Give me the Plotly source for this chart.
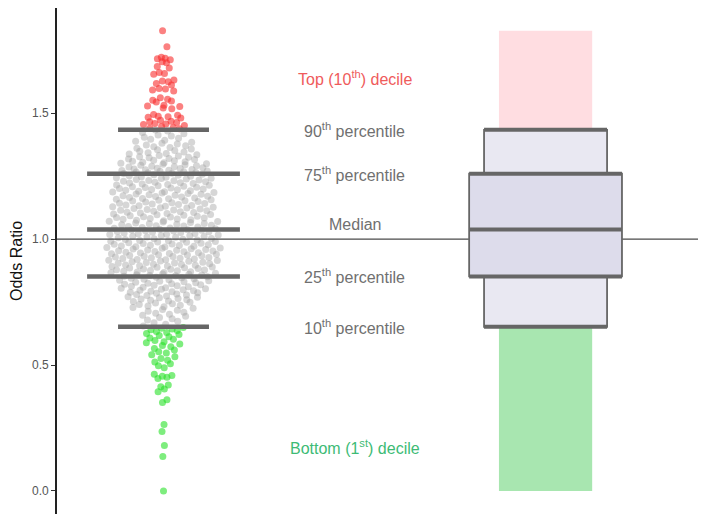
import numpy as np
import plotly.graph_objects as go

# ---------------- data ----------------
odds_top = [1.828, 1.764, 1.722, 1.718, 1.716, 1.712, 1.705, 1.701, 1.686, 1.680,
            1.662, 1.658, 1.655, 1.632, 1.628, 1.625, 1.618, 1.612, 1.598, 1.596,
            1.592, 1.588, 1.562, 1.556, 1.552, 1.549, 1.545, 1.532, 1.529, 1.527,
            1.521, 1.518, 1.495, 1.492, 1.488, 1.486, 1.484, 1.481, 1.472, 1.468,
            1.466, 1.463, 1.459, 1.457, 1.455, 1.451, 1.447, 1.443, 1.440, 1.438]

odds_mid = [
    # 10th - 25th percentile
    0.655, 0.662, 0.668, 0.674, 0.679, 0.684, 0.689, 0.694, 0.698, 0.702, 0.706, 0.710,
    0.714, 0.718, 0.721, 0.725, 0.728, 0.731, 0.734, 0.737, 0.740, 0.743, 0.746, 0.749,
    0.752, 0.754, 0.757, 0.759, 0.762, 0.764, 0.767, 0.769, 0.771, 0.774, 0.776, 0.778,
    0.780, 0.782, 0.785, 0.787, 0.789, 0.791, 0.793, 0.795, 0.797, 0.799, 0.801, 0.803,
    0.805, 0.807, 0.809, 0.811, 0.813, 0.815, 0.817, 0.819, 0.821, 0.823, 0.825, 0.827,
    0.829, 0.831, 0.833, 0.835, 0.837, 0.839, 0.841, 0.843, 0.845, 0.847, 0.849, 0.851,
    # 25th - median
    0.853, 0.855, 0.856, 0.858, 0.859, 0.861, 0.862, 0.864, 0.866, 0.867, 0.869, 0.870,
    0.872, 0.874, 0.875, 0.877, 0.878, 0.880, 0.881, 0.883, 0.885, 0.886, 0.888, 0.889,
    0.891, 0.893, 0.894, 0.896, 0.897, 0.899, 0.900, 0.902, 0.904, 0.905, 0.907, 0.908,
    0.910, 0.912, 0.913, 0.915, 0.916, 0.918, 0.919, 0.921, 0.923, 0.924, 0.926, 0.927,
    0.929, 0.931, 0.932, 0.934, 0.935, 0.937, 0.938, 0.940, 0.942, 0.943, 0.945, 0.946,
    0.948, 0.950, 0.951, 0.953, 0.954, 0.956, 0.957, 0.959, 0.961, 0.962, 0.964, 0.965,
    0.967, 0.969, 0.970, 0.972, 0.973, 0.975, 0.976, 0.978, 0.980, 0.981, 0.983, 0.984,
    0.986, 0.988, 0.989, 0.991, 0.992, 0.994, 0.995, 0.997, 0.999, 1.000, 1.002, 1.003,
    1.005, 1.007, 1.008, 1.010, 1.011, 1.013, 1.014, 1.016, 1.018, 1.019, 1.021, 1.022,
    1.024, 1.026, 1.027, 1.029, 1.030, 1.032, 1.033, 1.035, 1.036, 1.037,
    # median - 75th percentile
    1.039, 1.041, 1.043, 1.044, 1.046, 1.048, 1.050, 1.052, 1.053, 1.055, 1.057, 1.059,
    1.061, 1.062, 1.064, 1.066, 1.068, 1.070, 1.071, 1.073, 1.075, 1.077, 1.079, 1.080,
    1.082, 1.084, 1.086, 1.088, 1.089, 1.091, 1.093, 1.095, 1.097, 1.098, 1.100, 1.102,
    1.104, 1.106, 1.107, 1.109, 1.111, 1.113, 1.115, 1.116, 1.118, 1.120, 1.122, 1.124,
    1.125, 1.127, 1.129, 1.131, 1.133, 1.134, 1.136, 1.138, 1.140, 1.142, 1.143, 1.145,
    1.147, 1.149, 1.151, 1.152, 1.154, 1.156, 1.158, 1.160, 1.161, 1.163, 1.165, 1.167,
    1.169, 1.170, 1.172, 1.174, 1.176, 1.178, 1.179, 1.181, 1.183, 1.185, 1.187, 1.188,
    1.190, 1.192, 1.194, 1.196, 1.197, 1.199, 1.201, 1.203, 1.205, 1.206, 1.208, 1.210,
    1.212, 1.214, 1.215, 1.217, 1.219, 1.221, 1.223, 1.224, 1.226, 1.228, 1.230, 1.232,
    1.233, 1.235, 1.237, 1.239, 1.241, 1.242, 1.244, 1.246, 1.248, 1.250, 1.252, 1.254,
    1.256, 1.258,
    # 75th - 90th percentile
    1.261, 1.262, 1.264, 1.265, 1.267, 1.268, 1.270, 1.271, 1.273, 1.274, 1.276, 1.277,
    1.279, 1.281, 1.282, 1.284, 1.286, 1.287, 1.289, 1.291, 1.293, 1.295, 1.297, 1.299,
    1.301, 1.303, 1.305, 1.307, 1.309, 1.311, 1.313, 1.316, 1.318, 1.320, 1.323, 1.325,
    1.327, 1.330, 1.332, 1.335, 1.338, 1.340, 1.343, 1.346, 1.349, 1.352, 1.355, 1.358,
    1.361, 1.364, 1.367, 1.371, 1.374, 1.378, 1.381, 1.385, 1.389, 1.393, 1.397, 1.401,
    1.405, 1.410, 1.414, 1.419, 1.424, 1.429, 1.433]

odds_bottom = [0.649, 0.646, 0.643, 0.640, 0.637, 0.633, 0.629, 0.625, 0.621, 0.617,
               0.612, 0.607, 0.602, 0.597, 0.592, 0.588, 0.583, 0.578, 0.573, 0.566,
               0.560, 0.553, 0.548, 0.541, 0.533, 0.526, 0.519, 0.512, 0.505, 0.497,
               0.489, 0.463, 0.458, 0.455, 0.451, 0.446, 0.421, 0.414, 0.405, 0.394,
               0.362, 0.351, 0.264, 0.236, 0.180, 0.137, 0.000]

pct_names = ["10th", "25th", "Median", "75th", "90th"]
pct_values = [0.652, 0.852, 1.038, 1.260, 1.434]

label_texts = ["Top (10<sup>th</sup>) decile", "90<sup>th</sup> percentile",
               "75<sup>th</sup> percentile", "Median", "25<sup>th</sup> percentile",
               "10<sup>th</sup> percentile", "Bottom (1<sup>st</sup>) decile"]
label_values = [1.64, 1.434, 1.260, 1.038, 0.852, 0.652, 0.176]
label_colors = ["#EF5B5B", "#707070", "#707070", "#707070", "#707070", "#707070", "#3DBB75"]

reference_line = 1.0

# ---------------- layout helpers ----------------
SWARM_X = 1.0
BOX_X = 2.0
SWARM_HALF = 0.152


def van_der_corput(n, base=2):
    out = []
    for i in range(1, n + 1):
        q, denom, k = 0.0, 1.0, i
        while k > 0:
            denom *= base
            k, rem = divmod(k, base)
            q += rem / denom
        out.append(q)
    return np.array(out)


all_vals = np.array(odds_top + odds_mid + odds_bottom)
groups = np.array([0] * len(odds_top) + [1] * len(odds_mid) + [2] * len(odds_bottom))
order = np.argsort(all_vals, kind="stable")
sv = all_vals[order]
sg = groups[order]
n = len(sv)
sd = sv.std(ddof=1)
iqr = np.subtract(*np.percentile(sv, [75, 25]))
bw = 0.8 * 0.9 * min(sd, iqr / 1.34) * n ** -0.2
dens = np.array([np.exp(-0.5 * ((v - sv) / bw) ** 2).sum() for v in sv])
dens = dens / dens.max()
vdc = van_der_corput(n)
xoff = (2 * vdc - 1) * dens * SWARM_HALF
xs = SWARM_X + xoff

fig = go.Figure()
point_colors = {1: "rgba(165,165,165,0.45)", 0: "rgba(248,45,45,0.6)", 2: "rgba(40,225,40,0.6)"}
for g in [1, 0, 2]:
    m = sg == g
    fig.add_trace(go.Scatter(x=xs[m], y=sv[m], mode="markers",
                             marker=dict(size=7, color=point_colors[g], line=dict(width=0)),
                             hoverinfo="y", showlegend=False))

p = dict(zip(pct_names, pct_values))
vmax = float(all_vals.max())
vmin = float(all_vals.min())
LINE_C = "#666666"

shapes = []
shapes.append(dict(type="line", xref="paper", yref="y", x0=0, x1=1, y0=reference_line,
                   y1=reference_line, line=dict(color="#4a4a4a", width=1.4)))
for name in pct_names:
    hw = 0.119 if name in ("10th", "90th") else 0.2
    shapes.append(dict(type="line", xref="x", yref="y", x0=SWARM_X - hw, x1=SWARM_X + hw,
                       y0=p[name], y1=p[name], line=dict(color=LINE_C, width=4.5)))
shapes.append(dict(type="rect", xref="x", yref="y", x0=BOX_X - 0.122, x1=BOX_X + 0.122,
                   y0=p["90th"], y1=vmax, fillcolor="#FFDDE1", line=dict(width=0)))
shapes.append(dict(type="rect", xref="x", yref="y", x0=BOX_X - 0.122, x1=BOX_X + 0.122,
                   y0=vmin, y1=p["10th"], fillcolor="#A8E6B0", line=dict(width=0)))
shapes.append(dict(type="rect", xref="x", yref="y", x0=BOX_X - 0.161, x1=BOX_X + 0.161,
                   y0=p["10th"], y1=p["90th"], fillcolor="#E9E8F2",
                   line=dict(color=LINE_C, width=1.8)))
shapes.append(dict(type="rect", xref="x", yref="y", x0=BOX_X - 0.2, x1=BOX_X + 0.2,
                   y0=p["25th"], y1=p["75th"], fillcolor="#DDDCEB",
                   line=dict(color=LINE_C, width=1.8)))
for name in pct_names:
    hw = 0.161 if name in ("10th", "90th") else 0.2
    shapes.append(dict(type="line", xref="x", yref="y", x0=BOX_X - hw, x1=BOX_X + hw,
                       y0=p[name], y1=p[name], line=dict(color=LINE_C, width=4)))

annotations = []
for t, v, c in zip(label_texts, label_values, label_colors):
    annotations.append(dict(x=1.5, y=v, xref="x", yref="y", text=t, showarrow=False,
                            xanchor="center", yanchor="middle",
                            yshift=5 if t == "Median" else 0,
                            font=dict(size=16, color=c, family="Liberation Sans, Arial")))

# page has an 8px body margin: figure sized to fit the 720x514 window
fig.update_layout(
    width=712, height=506,
    margin=dict(l=49, r=22, t=0, b=0),
    paper_bgcolor="white", plot_bgcolor="white",
    font=dict(family="Liberation Sans, Arial", color="#4d4d4d"),
    shapes=shapes, annotations=annotations,
    xaxis=dict(range=[0.7212, 2.399], visible=False, showgrid=False, zeroline=False),
    yaxis=dict(range=[-0.0917, 1.918], tickvals=[0.0, 0.5, 1.0, 1.5],
               ticktext=["0.0", "0.5", "1.0", "1.5"], showgrid=False, zeroline=False,
               showline=True, linecolor="#222222", linewidth=1.6,
               ticks="outside", ticklen=4, tickcolor="#333333", tickwidth=1.2,
               tickfont=dict(size=12, color="#555555"),
               title=dict(text="Odds Ratio", standoff=7,
                          font=dict(size=16, color="#111111"))),
)

fig.write_html("out.html")
